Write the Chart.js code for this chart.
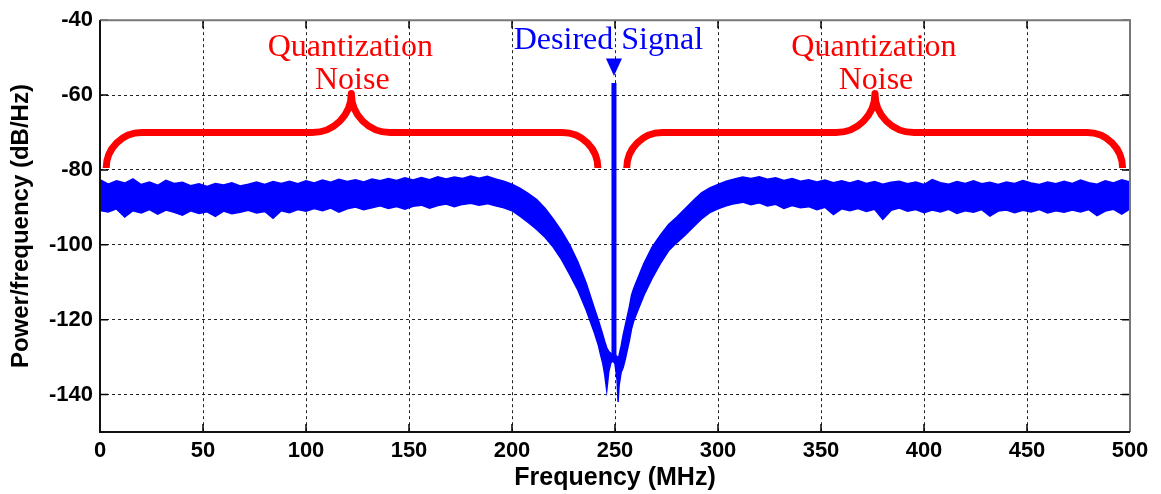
<!DOCTYPE html>
<html>
<head>
<meta charset="utf-8">
<script src="https://cdn.jsdelivr.net/npm/chart.js@4.4.0/dist/chart.umd.min.js"></script>
<style>
  html, body { margin: 0; padding: 0; background: #fff; }
  #wrap { width: 1161px; height: 494px; }
</style>
</head>
<body>
<div id="wrap"><canvas id="psd" width="1161" height="494"></canvas></div>
<script>
// frequency bins (MHz), coarse on the flat noise, fine around the notch
const freqMHz = [
  0, 4, 8, 12, 16, 20, 24, 28, 32, 36, 40, 44, 48,
  52, 56, 60, 64, 68, 72, 76, 80, 84, 88, 92, 96, 100,
  104, 108, 112, 116, 120, 124, 128, 132, 136, 140, 144, 148, 152,
  156, 160, 164, 168, 172, 176, 180, 184, 188, 192, 196, 200,
  204, 208, 212, 216, 220, 224, 228, 232, 236, 240,
  241, 242, 243, 244, 245, 246, 247, 248, 249, 250, 251, 251.5, 252, 253, 254, 255, 256, 257, 258, 259,
  260, 264, 268, 272, 276, 280, 284, 288, 292, 296, 300, 304, 308, 312, 316, 320,
  324, 328, 332, 336, 340, 344, 348, 352, 356, 360, 364, 368, 372, 376, 380,
  384, 388, 392, 396, 400, 404, 408, 412, 416, 420, 424, 428, 432, 436, 440,
  444, 448, 452, 456, 460, 464, 468, 472, 476, 480, 484, 488, 492, 496, 500
];

// upper edge of the noise trace (dB/Hz)
const noiseTop = [
  -82.6, -83.8, -82.9, -83.5, -82.4, -83.9, -83.2, -84.1, -82.8, -83.6, -83.3, -84.2, -83.7,
  -84.4, -83.6, -84.0, -83.4, -84.3, -83.8, -83.2, -83.9, -83.1, -83.6, -83.0, -83.7, -82.9,
  -83.5, -82.7, -83.3, -82.5, -83.1, -82.6, -83.2, -82.4, -82.9, -82.3, -82.8, -82.1, -82.7,
  -82.0, -82.6, -81.8, -82.4, -81.9, -82.3, -81.6, -82.2, -81.7, -82.4, -83.0, -83.8,
  -84.9, -86.3, -87.9, -90.2, -93.1, -96.3, -100.0, -104.6, -110.2, -117.0,
  -118.6, -120.3, -122.1, -123.9, -125.8, -127.5, -128.5, -129.0, -129.2, -129.4, -129.8, -130.5, -129.5, -127.0, -124.0, -121.5, -119.0, -116.5, -113.5, -111.8,
  -110.4, -105.0, -100.6, -97.4, -94.6, -92.6, -90.4, -88.2, -86.1, -84.8, -83.9, -83.0, -82.4, -81.9, -82.3, -81.8,
  -82.5, -82.1, -82.8, -82.3, -83.0, -82.6, -83.2, -82.7, -83.4, -82.9, -83.5, -82.8, -83.6, -83.1, -83.8,
  -83.3, -83.0, -83.7, -83.2, -83.9, -82.6, -83.4, -83.8, -83.1, -83.6, -82.9, -83.7, -83.3, -83.9, -83.2,
  -83.6, -82.8, -83.5, -83.9, -83.2, -83.7, -83.0, -83.6, -82.7, -83.4, -83.8, -82.9, -83.5, -82.6, -83.2
];

// lower edge of the noise trace (dB/Hz)
const noiseBottom = [
  -90.8, -91.2, -90.4, -92.6, -90.9, -91.5, -90.6, -91.8, -90.7, -91.3, -92.1, -90.9, -91.6,
  -91.2, -92.4, -91.0, -91.7, -91.3, -90.8, -91.5, -91.1, -92.9, -90.9, -91.4, -90.6, -91.0,
  -90.3, -90.9, -90.2, -91.3, -90.4, -89.9, -90.6, -90.1, -89.6, -90.3, -89.8, -90.5, -89.7,
  -89.4, -90.2, -89.5, -89.1, -89.8, -89.2, -88.9, -89.4, -89.0, -89.6, -90.1, -90.9,
  -92.4, -94.1, -95.9, -98.0, -100.6, -103.9, -107.9, -112.1, -117.4, -123.5,
  -125.2, -127.0, -129.4, -131.5, -134.6, -138.9, -133.8, -131.5, -131.0, -131.8, -136.0, -142.0, -137.5, -134.0, -132.7, -130.5, -128.0, -125.5, -122.5, -120.5,
  -119.0, -113.5, -109.0, -105.0, -101.6, -99.4, -97.4, -95.2, -93.1, -91.4, -90.4, -89.6, -89.0, -88.6, -89.3, -88.8,
  -89.6, -89.2, -90.3, -89.5, -90.1, -89.8, -90.6, -90.0, -91.9, -90.4, -90.9, -90.3, -91.1, -90.5, -93.2,
  -90.8, -90.2, -91.0, -90.6, -91.4, -90.7, -91.2, -90.5, -91.6, -90.9, -91.3, -90.6, -92.3, -91.0, -90.7,
  -91.4, -90.8, -91.2, -90.6, -91.5, -90.9, -91.3, -90.7, -91.2, -90.6, -92.2, -91.0, -90.5, -91.8, -90.4
];

// the tone
const signalFreq = 249.5;
const signalLevels = [-131, -56.8];

const xTicks = [0, 50, 100, 150, 200, 250, 300, 350, 400, 450, 500];
const yTicks = [-140, -120, -100, -80, -60, -40];

// annotation anchors (MHz / dB)
const braceStarts = [3, 255.7];
const braceTips = [122, 376.2];
const braceEnds = [241.7, 496.4];
const braceEndLevel = -79.5;
const braceBarLevel = -70;
const braceTipLevel = -59.6;

const BLUE = '#0000ff';
const RED = '#ff0000';

const toXY = (vals) => freqMHz.map((f, i) => ({ x: f, y: vals[i] }));

const annotations = {
  id: 'annotations',
  afterDatasetsDraw(chart) {
    const ctx = chart.ctx;
    const xs = chart.scales.x, ys = chart.scales.y;
    const X = v => xs.getPixelForValue(v);
    const Y = v => ys.getPixelForValue(v);

    ctx.save();
    // braces
    ctx.strokeStyle = RED;
    ctx.lineWidth = 7;
    ctx.lineCap = 'butt';
    ctx.lineJoin = 'round';
    const yEnd = Y(braceEndLevel), yBar = Y(braceBarLevel), yTip = Y(braceTipLevel);
    const rEnd = yEnd - yBar, rTip = yBar - yTip;
    for (let i = 0; i < braceStarts.length; i++) {
      const a = X(braceStarts[i]), t = X(braceTips[i]), b = X(braceEnds[i]);
      ctx.beginPath();
      ctx.moveTo(a, yEnd);
      ctx.arcTo(a, yBar, a + rEnd, yBar, rEnd);
      ctx.lineTo(t - rTip, yBar);
      ctx.arcTo(t, yBar, t, yTip, rTip);
      ctx.arcTo(t, yBar, t + rTip, yBar, rTip);
      ctx.lineTo(b - rEnd, yBar);
      ctx.arcTo(b, yBar, b, yEnd, rEnd);
      ctx.stroke();
    }

    // labels
    ctx.font = '32px "Liberation Serif", "Times New Roman", serif';
    ctx.textAlign = 'center';
    ctx.textBaseline = 'alphabetic';
    ctx.fillStyle = RED;
    braceTips.forEach(t => {
      ctx.fillText('Quantization', X(t) - 1, Y(-49.6));
      ctx.fillText('Noise', X(t) + 1, Y(-58.3));
    });
    ctx.fillStyle = BLUE;
    ctx.fillText('Desired Signal', X(246.8), Y(-47.8));

    // arrow head over the tone
    const ax = X(signalFreq);
    ctx.beginPath();
    ctx.moveTo(ax - 8, Y(-50.2));
    ctx.lineTo(ax + 8, Y(-50.2));
    ctx.lineTo(ax, Y(-54.9));
    ctx.closePath();
    ctx.fill();
    ctx.restore();
  },
  afterDraw(chart) {
    const ctx = chart.ctx;
    const { left, right, top, bottom } = chart.chartArea;
    const xs = chart.scales.x, ys = chart.scales.y;
    ctx.save();
    // inward tick marks
    ctx.strokeStyle = '#000';
    ctx.lineWidth = 1.5;
    ctx.beginPath();
    xTicks.forEach(v => {
      const px = xs.getPixelForValue(v);
      ctx.moveTo(px, bottom); ctx.lineTo(px, bottom - 8);
      ctx.moveTo(px, top); ctx.lineTo(px, top + 8);
    });
    yTicks.forEach(v => {
      const py = ys.getPixelForValue(v);
      ctx.moveTo(left, py); ctx.lineTo(left + 8, py);
      ctx.moveTo(right, py); ctx.lineTo(right - 8, py);
    });
    ctx.stroke();
    // box
    ctx.lineWidth = 2;
    ctx.strokeStyle = '#777';
    ctx.beginPath();
    ctx.moveTo(left, top); ctx.lineTo(right, top); ctx.lineTo(right, bottom);
    ctx.stroke();
    ctx.strokeStyle = '#111';
    ctx.beginPath();
    ctx.moveTo(left, top); ctx.lineTo(left, bottom); ctx.lineTo(right, bottom);
    ctx.stroke();
    ctx.restore();
  }
};

const tickFont = { family: '"Liberation Sans", Arial, sans-serif', size: 22, weight: 'bold' };
const titleFont = { family: '"Liberation Sans", Arial, sans-serif', size: 25, weight: 'bold' };
const gridStyle = { color: '#222', lineWidth: 1, drawTicks: false };

new Chart(document.getElementById('psd'), {
  type: 'line',
  data: {
    datasets: [
      {
        data: toXY(noiseTop),
        borderColor: BLUE, backgroundColor: BLUE,
        borderWidth: 1.5, pointRadius: 0, fill: '+1', tension: 0
      },
      {
        data: toXY(noiseBottom),
        borderColor: BLUE, backgroundColor: BLUE,
        borderWidth: 1.5, pointRadius: 0, fill: false, tension: 0
      },
      {
        data: signalLevels.map(v => ({ x: signalFreq, y: v })),
        borderColor: BLUE, borderWidth: 5, borderCapStyle: 'butt',
        pointRadius: 0, fill: false
      }
    ]
  },
  options: {
    responsive: false,
    animation: false,
    layout: { padding: { top: 13, right: 31, left: 0, bottom: 0 } },
    plugins: { legend: { display: false }, tooltip: { enabled: false } },
    scales: {
      x: {
        type: 'linear', min: 0, max: 500,
        afterBuildTicks: s => { s.ticks = xTicks.map(v => ({ value: v })); },
        afterFit: s => { s.height = 62; },
        border: { display: false, dash: [3, 3] },
        grid: gridStyle,
        ticks: { color: '#000', font: tickFont, padding: 6, maxRotation: 0 },
        title: { display: true, text: 'Frequency (MHz)', color: '#000', font: titleFont, padding: { top: 0, bottom: 1 } }
      },
      y: {
        type: 'linear', min: -150, max: -40,
        afterBuildTicks: s => { s.ticks = yTicks.map(v => ({ value: v })); },
        afterFit: s => { s.width = 100; },
        border: { display: false, dash: [3, 3] },
        grid: gridStyle,
        ticks: { color: '#000', font: tickFont, padding: 7 },
        title: { display: true, text: 'Power/frequency (dB/Hz)', color: '#000', font: { ...titleFont, size: 24 }, padding: { top: 7, bottom: 0 } }
      }
    }
  },
  plugins: [annotations]
});
</script>
</body>
</html>
